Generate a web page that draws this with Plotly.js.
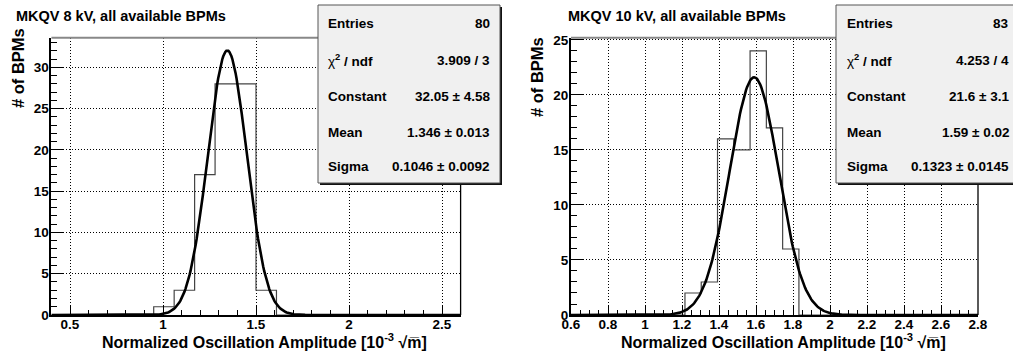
<!DOCTYPE html>
<html>
<head>
<meta charset="utf-8">
<script src="https://cdn.plot.ly/plotly-3.0.1.min.js"></script>
<style>html,body{margin:0;padding:0;background:#fff;}#chart{width:1013px;height:355px;}</style>
</head>
<body>
<div id="chart"></div>
<script>
// ---- data ----
const titles = ["MKQV 8 kV, all available BPMs", "MKQV 10 kV, all available BPMs"];
const histRange8 = [0.4, 2.6];
const counts8 = [0,0,0,0,0,1,3,17,28,28,3,0,0,0,0,0,0,0,0,0];
const histRange10 = [0.6, 2.8];
const counts10 = [0,0,0,0,0,0,0,2,3,16,15,24,17,6,0,0,0,0,0,0,0,0,0,0,0];
const fit8 = [32.05, 1.346, 0.1046];   // Constant, Mean, Sigma
const fit10 = [21.6, 1.59, 0.1323];
const statLabels = ["Entries", "<span style=\"font-weight:normal\">χ</span><sup>2</sup> / ndf", "Constant", "Mean", "Sigma"];
const statValues8 = ["80", "3.909 / 3", "32.05 ± 4.58", "1.346 ± 0.013", "0.1046 ± 0.0092"];
const statValues10 = ["83", "4.253 / 4", "21.6 ± 3.1", "1.59 ± 0.02", "0.1323 ± 0.0145"];
const xTitle = "Normalized Oscillation Amplitude [10<sup>-3</sup> √m\u0305]";
const yTitle = "# of BPMs";

const W = 1013, H = 355;
const FONT = "Liberation Sans, Arial, Helvetica, sans-serif";

function stairs(range, counts) {
  const n = counts.length, w = (range[1] - range[0]) / n;
  const x = [], y = [];
  for (let i = 0; i < n; i++) { x.push(range[0] + i * w); y.push(counts[i]); }
  x.push(range[1]); y.push(counts[n - 1]);
  return {x, y};
}
function gaus(range, p, npx) {
  const x = [], y = [];
  for (let i = 0; i <= npx; i++) {
    const v = range[0] + (range[1] - range[0]) * i / npx;
    x.push(v); y.push(p[0] * Math.exp(-0.5 * Math.pow((v - p[1]) / p[2], 2)));
  }
  return {x, y};
}

const h8 = stairs(histRange8, counts8), h10 = stairs(histRange10, counts10);
const g8 = gaus(histRange8, fit8, 400), g10 = gaus(histRange10, fit10, 400);

const traces = [
  {x: h8.x, y: h8.y, xaxis: 'x', yaxis: 'y', mode: 'lines', line: {shape: 'hv', color: '#444', width: 1.2}, hoverinfo: 'skip'},
  {x: g8.x, y: g8.y, xaxis: 'x', yaxis: 'y', mode: 'lines', line: {color: '#000', width: 2.6}, hoverinfo: 'skip'},
  {x: h10.x, y: h10.y, xaxis: 'x2', yaxis: 'y2', mode: 'lines', line: {shape: 'hv', color: '#444', width: 1.2}, hoverinfo: 'skip'},
  {x: g10.x, y: g10.y, xaxis: 'x2', yaxis: 'y2', mode: 'lines', line: {color: '#000', width: 2.6}, hoverinfo: 'skip'}
];

const tickFont = {family: FONT, size: 13.5, color: '#000', weight: 'bold'};
function xax(domain, range, dtick, minor, anchor) {
  return {domain, range, anchor, dtick, tick0: 0, ticks: 'inside', ticklen: 10, tickwidth: 1, tickcolor: '#000',
    minor: {dtick: minor, ticks: 'inside', ticklen: 5, tickwidth: 1, tickcolor: '#000', showgrid: false},
    showgrid: true, gridcolor: '#000', griddash: '1px,2px', gridwidth: 1, zeroline: false, ticklabelstandoff: -4,
    showline: true, linecolor: '#000', linewidth: 2, tickfont: tickFont, fixedrange: true};
}
function yax(domain, range, anchor) {
  return {domain, range, anchor, dtick: 5, tick0: 0, ticks: 'inside', ticklen: 12, tickwidth: 1, tickcolor: '#000',
    minor: {dtick: 1, ticks: 'inside', ticklen: 6, tickwidth: 1, tickcolor: '#000', showgrid: false},
    showgrid: true, gridcolor: '#000', griddash: '1px,2px', gridwidth: 1, zeroline: false, ticklabelstandoff: -2,
    showline: true, linecolor: '#000', linewidth: 2, tickfont: tickFont, fixedrange: true};
}
const yDom = [(H - 315) / H, (H - 37.7) / H];

const px = v => v / W, py = v => 1 - v / H;

const shapes = [];
// frame top (gray) and right (black) borders
[['x', 'y'], ['x2', 'y2']].forEach(([xa, ya]) => {
  shapes.push({type: 'line', xref: xa + ' domain', yref: ya + ' domain', x0: 0, x1: 1, y0: 1, y1: 1, line: {color: '#888', width: 2}});
  shapes.push({type: 'line', xref: xa + ' domain', yref: ya + ' domain', x0: 1, x1: 1, y0: 0, y1: 1, line: {color: '#000', width: 1.3}});
});
// stats boxes: shadow + box
function statBox(x0, x1, y0, y1) {
  shapes.push({type: 'rect', xref: 'paper', yref: 'paper', x0: px(x0 + 2), x1: px(x1 + 2), y0: py(y0 + 2), y1: py(y1 + 2), fillcolor: '#111', line: {width: 0}});
  shapes.push({type: 'rect', xref: 'paper', yref: 'paper', x0: px(x0), x1: px(x1), y0: py(y0), y1: py(y1), fillcolor: '#f0f0f0', line: {color: '#555', width: 1}});
}
statBox(318, 500, 5, 183);
statBox(836, 1030, 5, 183);

const annotations = [];
const rowsY = [23.3, 60, 96.7, 132.7, 166.7];
function stats(labelX, valueX, values) {
  for (let i = 0; i < 5; i++) {
    annotations.push({xref: 'paper', yref: 'paper', x: px(labelX), y: py(rowsY[i]), xanchor: 'left', yanchor: 'middle',
      text: statLabels[i], showarrow: false, font: {family: FONT, size: 13.5, color: '#000', weight: 'bold'}});
    annotations.push({xref: 'paper', yref: 'paper', x: px(valueX), y: py(rowsY[i]), xanchor: 'right', yanchor: 'middle',
      text: values[i], showarrow: false, font: {family: FONT, size: 13.5, color: '#000', weight: 'bold'}});
  }
}
stats(326, 492, statValues8);
stats(845, 1011, statValues10);

// titles
annotations.push({xref: 'paper', yref: 'paper', x: px(14), y: py(16), xanchor: 'left', yanchor: 'middle', text: titles[0], showarrow: false, font: {family: FONT, size: 14.5, color: '#000', weight: 'bold'}});
annotations.push({xref: 'paper', yref: 'paper', x: px(566), y: py(16), xanchor: 'left', yanchor: 'middle', text: titles[1], showarrow: false, font: {family: FONT, size: 14.5, color: '#000', weight: 'bold'}});
// axis titles
[[429, 18, 68], [948, 537, 77]].forEach(([xr, yx, yy]) => {
  annotations.push({xref: 'paper', yref: 'paper', x: px(xr), y: py(341), xanchor: 'right', yanchor: 'middle', text: xTitle, showarrow: false, font: {family: FONT, size: 16, color: '#000', weight: 'bold'}});
  annotations.push({xref: 'paper', yref: 'paper', x: px(yx), y: py(yy), xanchor: 'center', yanchor: 'middle', textangle: -90, text: yTitle, showarrow: false, font: {family: FONT, size: 16.5, color: '#000', weight: 'bold'}});
});

const layout = {
  width: W, height: H, margin: {l: 0, r: 0, t: 0, b: 0}, paper_bgcolor: '#fff', plot_bgcolor: '#fff', showlegend: false,
  xaxis: xax([51.4 / W, 460.6 / W], histRange8, 0.5, 0.1, 'y'),
  yaxis: yax(yDom, [0, 33.6], 'x'),
  xaxis2: xax([571 / W, 978 / W], histRange10, 0.2, 0.05, 'y2'),
  yaxis2: yax(yDom, [0, 25.2], 'x2'),
  shapes, annotations
};
Plotly.newPlot('chart', traces, layout, {displayModeBar: false, staticPlot: true});
</script>
</body>
</html>
